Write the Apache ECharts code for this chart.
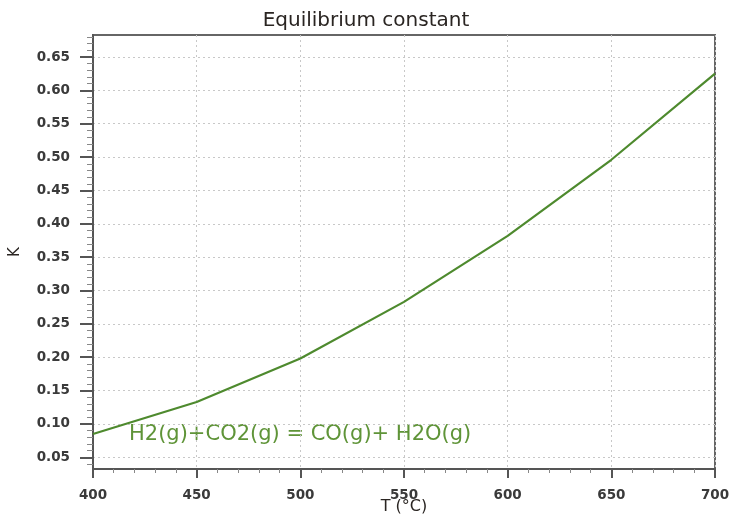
<!DOCTYPE html>
<html><head><meta charset="utf-8">
<script src="https://cdn.jsdelivr.net/npm/echarts@6/dist/echarts.min.js"></script>
<style>html,body{margin:0;padding:0;background:#fff}#c{width:732px;height:515px}</style>
</head><body><div id="c"></div>
<script>
const chartTitle = 'Equilibrium constant';
const xName = 'T (°C)';
const yName = 'K';
const reactionText = 'H2(g)+CO2(g) = CO(g)+ H2O(g)';
const temperatures = [400, 450, 500, 550, 600, 650, 700];
const kValues = [0.085, 0.133, 0.198, 0.283, 0.382, 0.496, 0.625];
const yMajorTicks = [0.05, 0.10, 0.15, 0.20, 0.25, 0.30, 0.35, 0.40, 0.45, 0.50, 0.55, 0.60, 0.65];
const yMinorTicks = [0.04, 0.05, 0.06, 0.07, 0.08, 0.09, 0.10, 0.11, 0.12, 0.13, 0.14, 0.15, 0.16, 0.17, 0.18, 0.19, 0.20, 0.21, 0.22, 0.23, 0.24, 0.25, 0.26, 0.27, 0.28, 0.29, 0.30, 0.31, 0.32, 0.33, 0.34, 0.35, 0.36, 0.37, 0.38, 0.39, 0.40, 0.41, 0.42, 0.43, 0.44, 0.45, 0.46, 0.47, 0.48, 0.49, 0.50, 0.51, 0.52, 0.53, 0.54, 0.55, 0.56, 0.57, 0.58, 0.59, 0.60, 0.61, 0.62, 0.63, 0.64, 0.65, 0.66, 0.67, 0.68];
const yMin = 0.0325, yMax = 0.683;

const font = 'DejaVu Sans';
const labelStyle = { color: '#3a3a3a', fontFamily: font, fontSize: 13.5, fontWeight: 'bold' };
const gridLine = { show: true, lineStyle: { color: '#c8c8c8', type: [2, 3], width: 1 } };

const chart = echarts.init(document.getElementById('c'), null, { renderer: 'canvas' });
chart.setOption({
  animation: false,
  backgroundColor: '#fff',
  title: {
    text: chartTitle, left: 'center', top: 6,
    textStyle: { fontFamily: font, fontSize: 20, fontWeight: 'normal', color: '#2a2522' }
  },
  grid: { left: 93, right: 17, top: 35, bottom: 46, show: true, borderColor: '#666', borderWidth: 2, backgroundColor: 'transparent', outerBoundsMode: 'none', containLabel: false },
  xAxis: [{
    type: 'value', min: 400, max: 700, interval: 50,
    name: xName, nameLocation: 'middle', nameGap: 30, nameMoveOverlap: false,
    nameTextStyle: { color: '#2a2522', fontFamily: font, fontSize: 16 },
    axisLine: { show: true, onZero: false, lineStyle: { color: '#555', width: 2 } },
    axisTick: { show: true, length: 9, lineStyle: { color: '#555', width: 2 } },
    minorTick: { show: true, splitNumber: 5, length: 4, lineStyle: { color: '#888', width: 1 } },
    axisLabel: Object.assign({ margin: 19 }, labelStyle),
    splitLine: gridLine
  }],
  yAxis: [{
    type: 'value', min: yMin, max: yMax, position: 'left',
    axisLine: { show: true, onZero: false, lineStyle: { color: '#555', width: 2 } },
    axisTick: { show: true, customValues: yMinorTicks, length: 6, lineStyle: { color: '#888', width: 1 } },
    axisLabel: { show: false },
    splitLine: { show: false }
  }, {
    type: 'value', min: yMin, max: yMax, position: 'left',
    name: yName, nameLocation: 'middle', nameGap: 70, nameMoveOverlap: false,
    nameTextStyle: { color: '#2a2522', fontFamily: font, fontSize: 15 },
    axisLine: { show: false },
    axisTick: { show: true, customValues: yMajorTicks, length: 13, lineStyle: { color: '#555', width: 2 } },
    axisLabel: Object.assign({ customValues: yMajorTicks, margin: 23, formatter: v => v.toFixed(2) }, labelStyle),
    splitLine: Object.assign({ customValues: yMajorTicks }, gridLine)
  }],
  graphic: [{
    type: 'text', left: 129, top: 424,
    style: { text: reactionText, fill: '#5f9438', font: '21px "DejaVu Sans"' }
  }],
  series: [{
    type: 'line', xAxisIndex: 0, yAxisIndex: 0,
    data: temperatures.map((t, i) => [t, kValues[i]]),
    showSymbol: false, smooth: false,
    lineStyle: { color: '#4e8a2e', width: 2.2 }
  }]
});
</script></body></html>
